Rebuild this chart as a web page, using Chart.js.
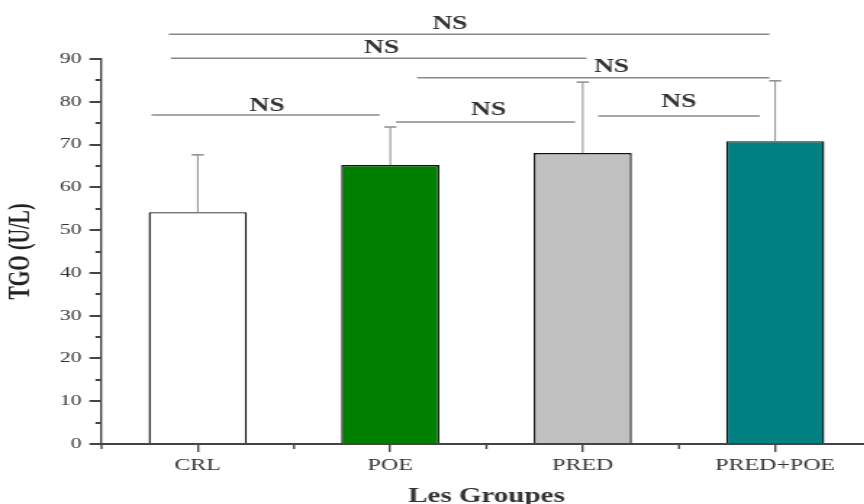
<!DOCTYPE html>
<html>
<head>
<meta charset="utf-8">
<script src="https://cdn.jsdelivr.net/npm/chart.js@4.4.1/dist/chart.umd.min.js"></script>
<style>
  html, body { margin: 0; padding: 0; background: #fff; overflow: hidden; }
  #wrap { width: 864px; height: 504px; overflow: hidden; }
  /* the original figure is stretched horizontally */
  #tgoChart { transform: scaleX(1.45); transform-origin: 0 0; }
</style>
</head>
<body>
<div id="wrap"><canvas id="tgoChart" width="603" height="509"></canvas></div>
<script>
// TGO par groupe

const groups = ['CRL', 'POE', 'PRED', 'PRED+POE'];
const tgoMeans = [54.2, 65.2, 68.0, 70.8];
const tgoSD = [13.4, 8.9, 16.6, 14.1];
const barColors = ['#ffffff', '#008000', '#c0c0c0', '#008080'];
const yTicks = [0, 10, 20, 30, 40, 50, 60, 70, 80, 90];

// comparaisons : [debut, fin] en unites de categorie, hauteur de la ligne
const sigFrom = [-0.15, -0.14, 1.14, -0.24, 1.03, 2.08];
const sigTo = [2.97, 2.02, 2.97, 0.945, 1.96, 2.92];
const sigLevel = [95.8, 90.2, 85.6, 76.9, 75.3, 76.7];
// position du texte NS
const sigTextX = [1.31, 0.955, 2.15, 0.36, 1.51, 2.50];
const sigTextY = [98.2, 92.6, 88.1, 79.0, 78.1, 79.9];
const sigText = ['NS', 'NS', 'NS', 'NS', 'NS', 'NS'];

const serif = '"Liberation Serif", "Times New Roman", serif';

const extrasPlugin = {
    id: 'extras',
    afterDraw(chart) {
        const ctx = chart.ctx;
        const x = chart.scales.x;
        const y = chart.scales.y;
        ctx.save();

        // minor ticks on y axis
        ctx.strokeStyle = '#444';
        ctx.lineWidth = 2;
        for (let v = 5; v < 90; v += 10) {
            const py = Math.round(y.getPixelForValue(v));
            ctx.beginPath();
            ctx.moveTo(x.left, py);
            ctx.lineTo(x.left - 4.2, py);
            ctx.stroke();
        }
        // minor ticks on x axis (between groups)
        ctx.lineWidth = 1.4;
        for (let i = -0.5; i < groups.length; i += 1) {
            const px = x.getPixelForValue(i);
            ctx.beginPath();
            ctx.moveTo(px, y.bottom);
            ctx.lineTo(px, y.bottom + 5);
            ctx.stroke();
        }

        // error bars (upper only)
        ctx.strokeStyle = '#8c8c8c';
        tgoMeans.forEach((m, i) => {
            const px = x.getPixelForValue(i);
            const top = y.getPixelForValue(m + tgoSD[i]);
            const base = y.getPixelForValue(m);
            ctx.lineWidth = 1;
            ctx.beginPath();
            ctx.moveTo(px, base);
            ctx.lineTo(px, top);
            ctx.stroke();
            ctx.lineWidth = 1.5;
            ctx.beginPath();
            ctx.moveTo(px - 4.2, top);
            ctx.lineTo(px + 4.2, top);
            ctx.stroke();
        });

        // significance lines
        ctx.strokeStyle = '#8a8a8a';
        ctx.lineWidth = 1.5;
        sigLevel.forEach((lv, i) => {
            const py = y.getPixelForValue(lv);
            ctx.beginPath();
            ctx.moveTo(x.getPixelForValue(sigFrom[i]), py);
            ctx.lineTo(x.getPixelForValue(sigTo[i]), py);
            ctx.stroke();
        });
        ctx.fillStyle = '#333';
        ctx.font = 'bold 19px ' + serif;
        ctx.textAlign = 'center';
        ctx.textBaseline = 'middle';
        sigText.forEach((t, i) => {
            ctx.fillText(t, x.getPixelForValue(sigTextX[i]), y.getPixelForValue(sigTextY[i]));
        });
        ctx.restore();
    }
};

new Chart(document.getElementById('tgoChart'), {
    type: 'bar',
    data: {
        labels: groups,
        datasets: [{
            data: tgoMeans,
            backgroundColor: barColors,
            borderColor: '#111',
            borderWidth: 1.4,
            barPercentage: 0.51,
            categoryPercentage: 1
        }]
    },
    options: {
        responsive: false,
        animation: false,
        layout: { padding: { top: 59, right: 2, left: 0, bottom: 0 } },
        plugins: {
            legend: { display: false },
            tooltip: { enabled: false }
        },
        scales: {
            x: {
                afterFit: (s) => { s.height = 65; },
                border: { color: '#444', width: 2 },
                grid: { offset: false, drawOnChartArea: false, tickLength: 8, color: '#444', lineWidth: 1.4 },
                ticks: { color: '#333', padding: 4, font: { family: serif, size: 16.5 } },
                title: {
                    display: true,
                    text: 'Les Groupes',
                    color: '#333',
                    font: { family: serif, size: 20, weight: 'bold' },
                    padding: { top: 0, bottom: 0 }
                }
            },
            y: {
                min: 0,
                max: 90,
                afterFit: (s) => { s.width = 70; },
                afterBuildTicks: (s) => { s.ticks = yTicks.map(v => ({ value: v })); },
                border: { color: '#444', width: 1.4 },
                grid: { drawOnChartArea: false, tickLength: 8.3, color: '#444', lineWidth: 2 },
                ticks: { color: '#333', padding: 5.5, font: { family: serif, size: 15 } },
                title: {
                    display: true,
                    text: 'TGO (U/L)',
                    color: '#222',
                    font: { family: serif, size: 20, weight: 'bold' },
                    padding: { top: 3, bottom: 0 }
                }
            }
        }
    },
    plugins: [extrasPlugin]
});
</script>
</body>
</html>
